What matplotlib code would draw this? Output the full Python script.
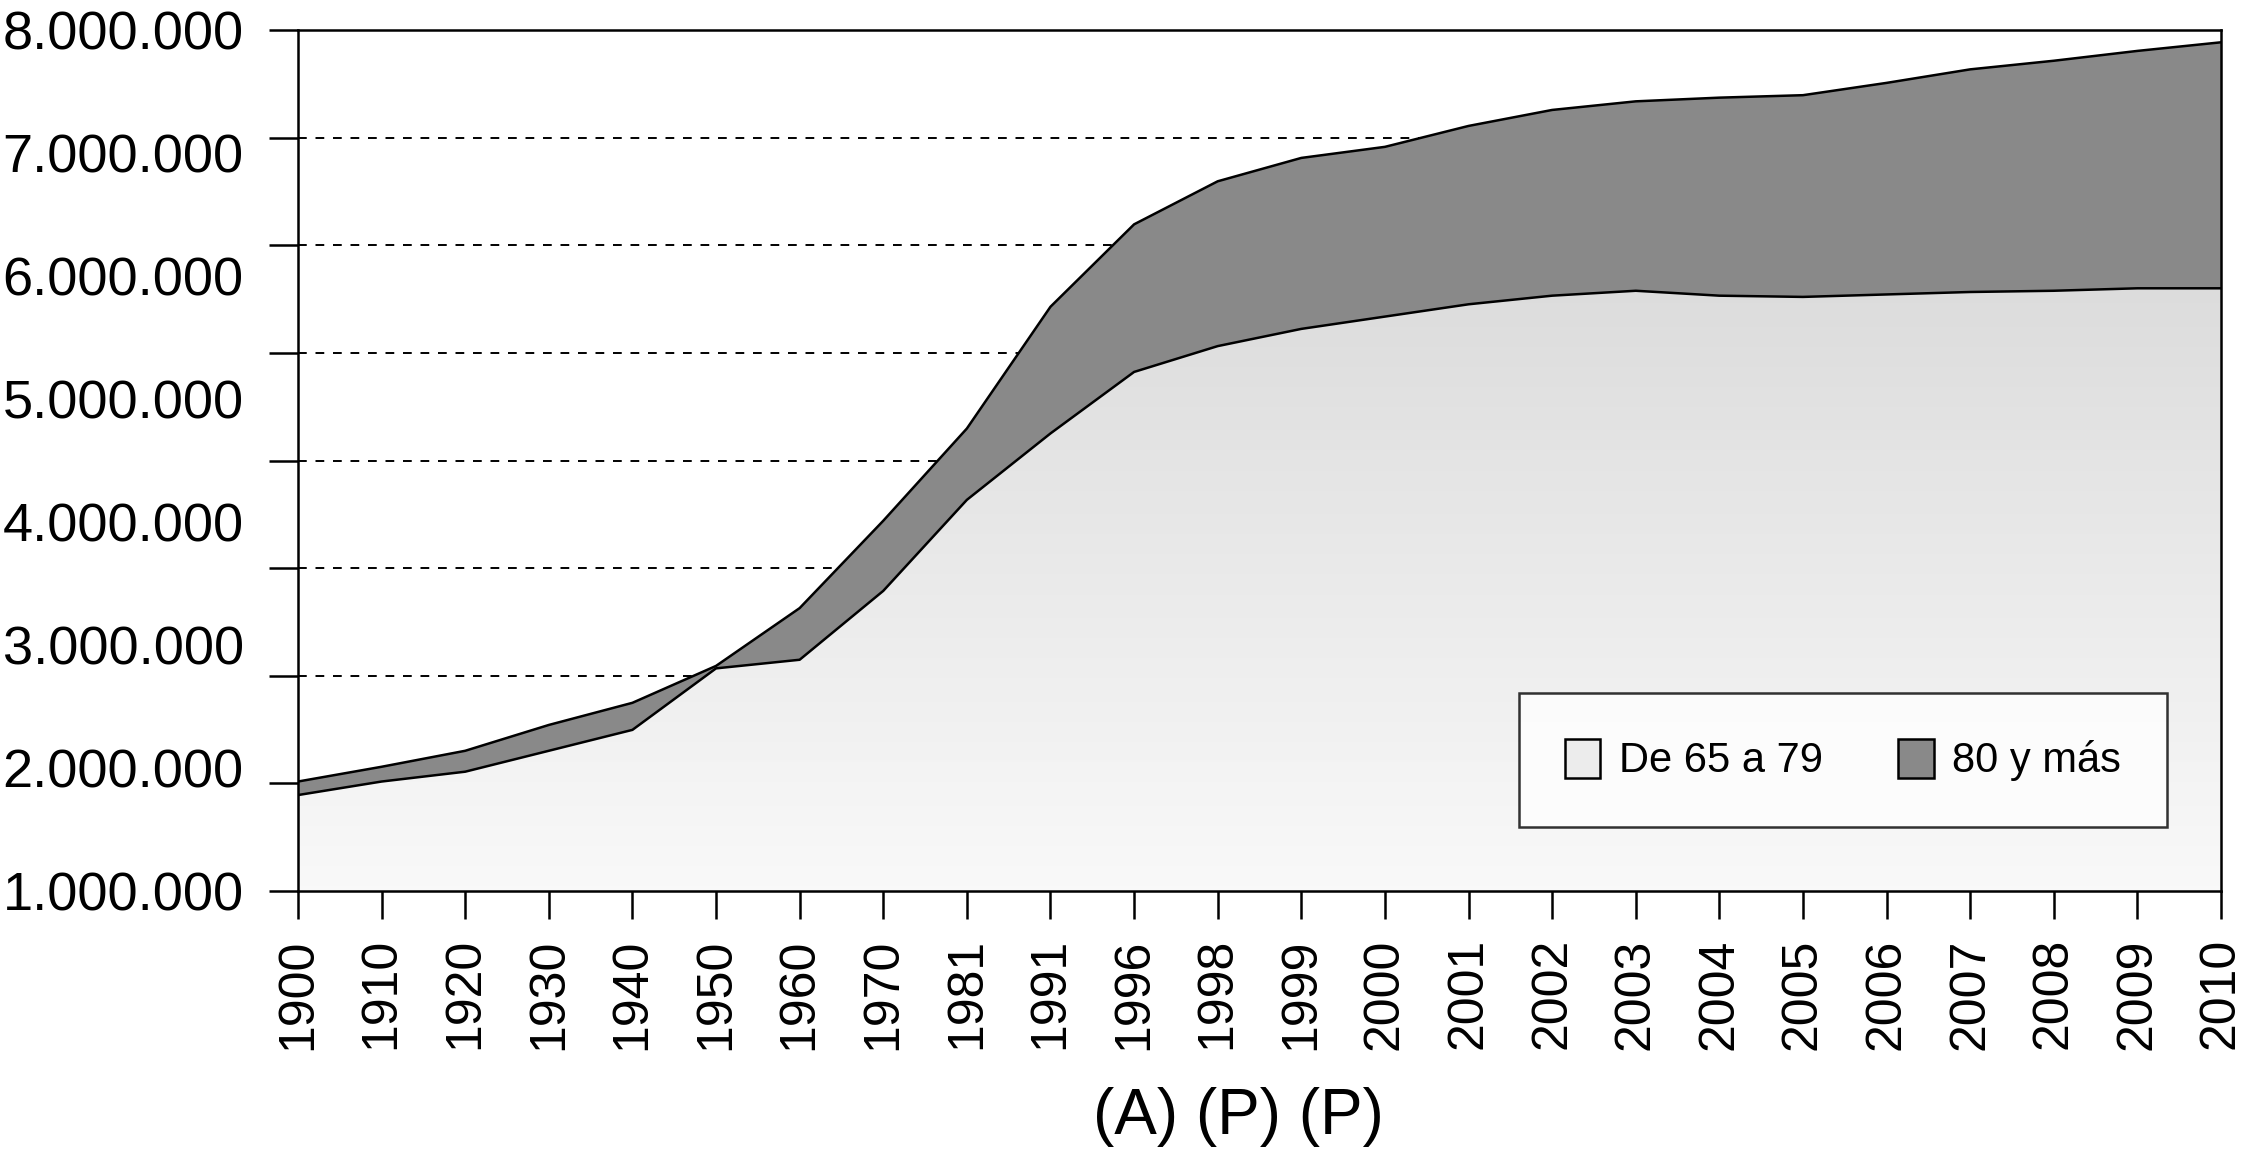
import matplotlib
matplotlib.use("Agg")
import matplotlib.pyplot as plt
import numpy as np
from matplotlib.patches import Patch
from matplotlib.colors import LinearSegmentedColormap

plt.rcParams['font.family'] = ['Liberation Sans', 'DejaVu Sans']

anios = ["1900", "1910", "1920", "1930", "1940", "1950", "1960", "1970", "1981", "1991",
         "1996", "1998", "1999", "2000", "2001", "2002", "2003", "2004", "2005", "2006",
         "2007", "2008", "2009", "2010"]

# millones de personas
de_65_a_79 = [1.78, 1.89, 1.97, 2.14, 2.31, 2.81, 2.88, 3.44, 4.18, 4.72, 5.22, 5.43,
              5.57, 5.67, 5.77, 5.84, 5.88, 5.84, 5.83, 5.85, 5.87, 5.88, 5.90, 5.90]
ochenta_y_mas = [0.11, 0.12, 0.17, 0.21, 0.22, 0.02, 0.42, 0.57, 0.58, 1.03, 1.20, 1.34,
                 1.39, 1.38, 1.45, 1.51, 1.54, 1.61, 1.64, 1.72, 1.81, 1.87, 1.93, 2.00]

etiquetas_y = ["1.000.000", "2.000.000", "3.000.000", "4.000.000",
               "5.000.000", "6.000.000", "7.000.000", "8.000.000"]

x = np.arange(len(anios))
bajo = np.array(de_65_a_79) * 1e6
alto = bajo + np.array(ochenta_y_mas) * 1e6

fig = plt.figure(figsize=(22.5, 11.55), dpi=100)
ax = fig.add_axes([298 / 2250, 264 / 1155, 1923 / 2250, 861 / 1155])

# relleno degradado para 65-79
cmap = LinearSegmentedColormap.from_list("gris", ["#f9f9f9", "#d0d0d0"])
grad = np.linspace(0, 1, 256).reshape(-1, 1)
img = ax.imshow(grad, extent=(0, 23, 1e6, 8e6), origin='lower', cmap=cmap,
                aspect='auto', zorder=2, interpolation='bilinear')
poly = ax.fill_between(x, 1e6, bajo, facecolor='none', edgecolor='none', zorder=2)
img.set_clip_path(poly.get_paths()[0], transform=ax.transData)

ax.fill_between(x, bajo, alto, facecolor='#898989', edgecolor='none', zorder=2.2)
ax.plot(x, bajo, color='black', lw=1.8, zorder=3)
ax.plot(x, alto, color='black', lw=1.8, zorder=3)

ax.set_xlim(0, 23)
ax.set_ylim(1e6, 8e6)

ax.set_xticks(x)
ax.set_xticklabels(anios, rotation=90, fontsize=36)
ax.tick_params(axis='x', length=20, width=1.8, pad=14)

ax.yaxis.remove_overlapping_locs = False
ax.set_yticks(np.linspace(1e6, 8e6, 9))
ax.set_yticklabels([])
ax.set_yticks(np.arange(1e6, 8.5e6, 1e6), minor=True)
ax.set_yticklabels(etiquetas_y, minor=True, fontsize=39)
ax.tick_params(axis='y', which='major', length=21, width=1.8)
ax.tick_params(axis='y', which='minor', length=0, pad=39)

ax.set_axisbelow(True)
ax.yaxis.grid(True, which='major', color='black', lw=1.4, linestyle=(0, (4.5, 4.5)))

for s in ax.spines.values():
    s.set_linewidth(1.8)
    s.set_zorder(4)

ax.set_xlabel("(A) (P) (P)", fontsize=46, va='center',
              family=['Liberation Sans Narrow', 'Liberation Sans'])
ax.xaxis.set_label_coords(0.489, -0.262)

handles = [Patch(facecolor='#ececec', edgecolor='black', lw=1.8, label="De 65 a 79"),
           Patch(facecolor='#898989', edgecolor='black', lw=1.8, label="80 y más")]
leg = ax.legend(handles=handles, ncol=2, loc='center', mode='expand',
                bbox_to_anchor=(0.635, 0.073, 0.337, 0.158), fontsize=30,
                frameon=True, fancybox=False, borderpad=1.1, handlelength=0.85,
                handleheight=1.05, handletextpad=0.45, borderaxespad=0)
leg.get_frame().set_edgecolor('black')
leg.get_frame().set_linewidth(1.8)
leg.set_zorder(5)

fig.savefig("out.png", dpi=100)
